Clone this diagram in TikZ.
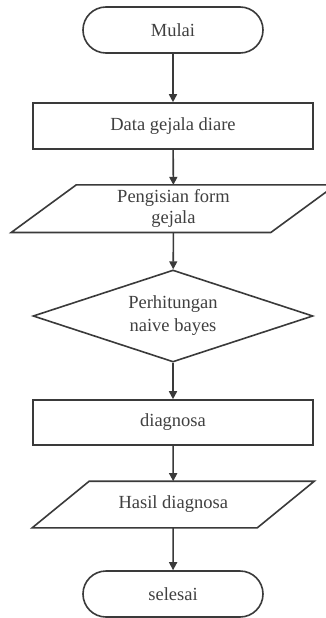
\documentclass[tikz,border=0pt]{standalone}
\usepackage{fontspec}
\setmainfont{Liberation Serif}
\usetikzlibrary{shapes.geometric,arrows.meta}
\definecolor{ink}{HTML}{3A3A3A}
\definecolor{txt}{HTML}{404040}
\tikzset{
  base/.style={draw=ink, line width=1.6pt, fill=white, text=txt, inner sep=0pt,
    font=\fontsize{18.5}{21}\selectfont, align=center},
  terminal/.style={base, rectangle, rounded corners=23pt, minimum width=180pt, minimum height=46pt},
  process/.style={base, rectangle, minimum width=280pt, minimum height=46pt},
  % text box of a slanted input/output block; its outline is drawn separately
  iobody/.style={base, draw=none, fill=none, rectangle},
  ioline/.style={draw=ink, line width=1.6pt, line join=miter},
  decision/.style={base, diamond, minimum width=280pt, minimum height=92pt, aspect=3},
  flow/.style={draw=ink, line width=1.6pt, -{Triangle[width=8pt,length=8pt]}}
}
\begin{document}
\begin{tikzpicture}[x=1pt,y=-1pt]
  \useasboundingbox (0,0) rectangle (326,618);
  \clip (0,0) rectangle (326,618);
  \fill[white] (0,0) rectangle (326,618);

  \node[terminal] (start) at (173,30) {Mulai};
  \node[process] (data) at (173,126) {Data gejala diare};
  \node[iobody, minimum width=258pt, minimum height=46pt] (form) at (173.5,208.7)
        {Pengisian form\\gejala};
  \draw[ioline] ([xshift=-32.5pt]form.south west) -- ([xshift=32.5pt]form.north west)
     -- ([xshift=32.5pt]form.north east) -- ([xshift=-32.5pt]form.south east) -- cycle;
  \node[decision, font=\fontsize{18.5}{23}\selectfont] (calc) at (173,316)
        {Perhitungan\\naive bayes};
  \node[process, minimum height=45pt] (diag) at (173,422.5) {diagnosa};
  \node[iobody, minimum width=223.5pt, minimum height=45pt] (result) at (173.25,504.5)
        {Hasil diagnosa};
  \draw[ioline] ([xshift=-28.5pt]result.south west) -- ([xshift=28.5pt]result.north west)
     -- ([xshift=28.5pt]result.north east) -- ([xshift=-28.5pt]result.south east) -- cycle;
  \node[terminal] (end) at (173,594) {selesai};

  \draw[flow] (start) -- (data);
  \draw[flow] (data) -- (form);
  \draw[flow] (form) -- (calc);
  \draw[flow] (calc) -- (diag);
  \draw[flow] (diag) -- (result);
  \draw[flow] (result) -- (end);
\end{tikzpicture}
\end{document}
